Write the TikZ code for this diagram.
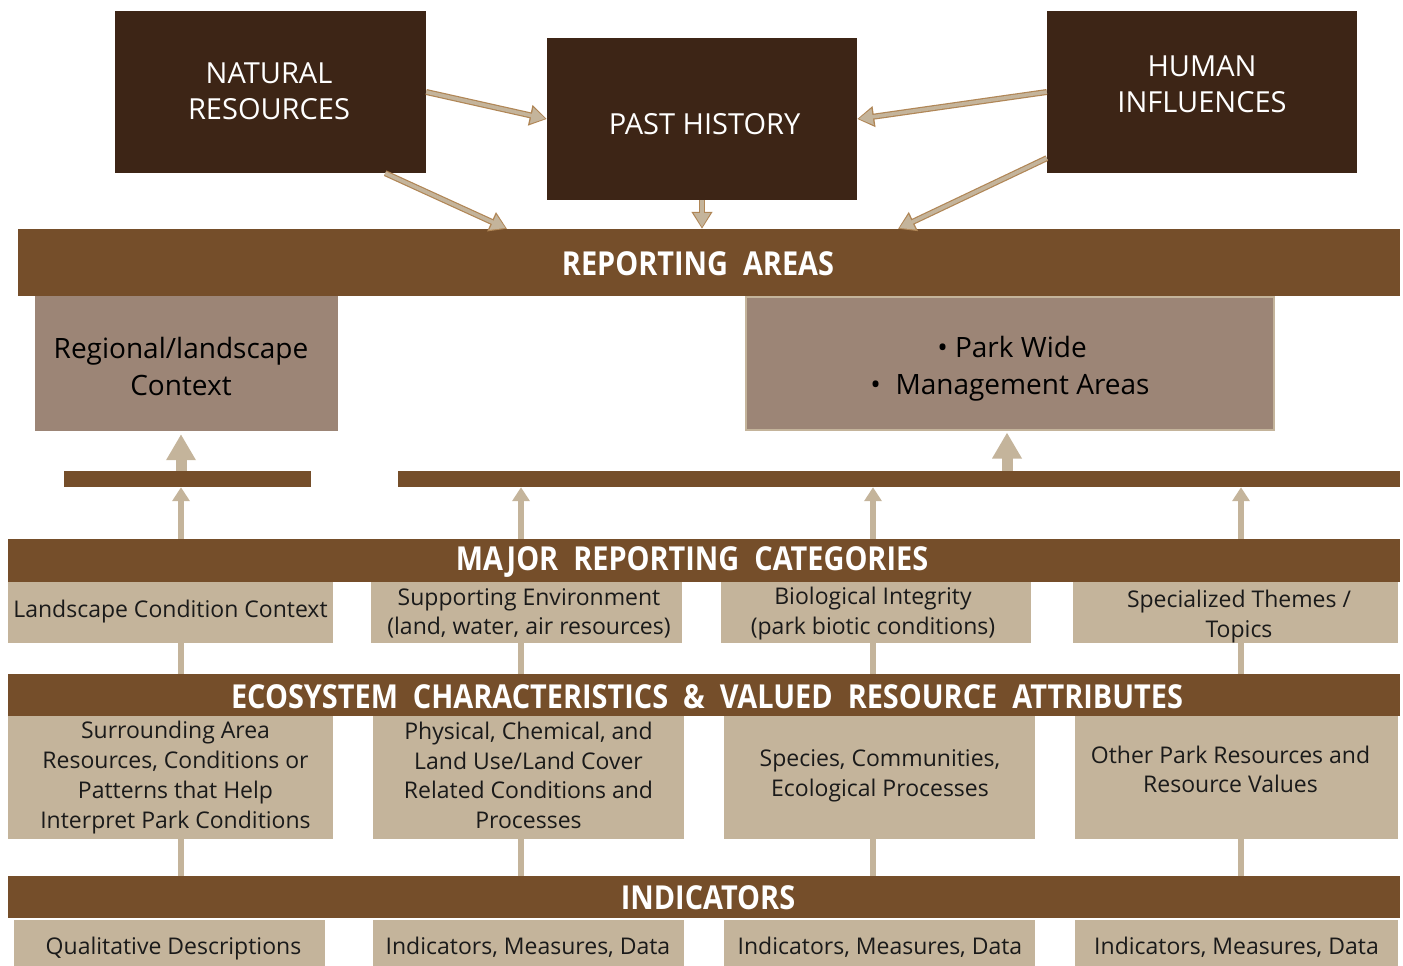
\documentclass[tikz,border=0pt]{standalone}
\usepackage{fontspec}
\usepackage{graphicx}
\setmainfont{Open Sans}
\usetikzlibrary{arrows.meta,calc}
\definecolor{darkb}{HTML}{3D2516}
\definecolor{barb}{HTML}{754E2A}
\definecolor{mauve}{HTML}{9C8576}
\definecolor{tanc}{HTML}{C4B49B}
\definecolor{arrb}{HTML}{B08656}
\definecolor{txt}{HTML}{1A1A1A}
\newcommand{\hd}[1]{\scalebox{0.875}[1]{#1}}
\tikzset{
  topbox/.style={fill=darkb, inner sep=0pt},
  toptxt/.style={text=white, inner sep=0pt, align=center, font=\fontsize{29}{36}\selectfont},
  barbox/.style={fill=barb, inner sep=0pt},
  hdr/.style={text=white, inner sep=0pt, font=\fontsize{33}{33}\selectfont\bfseries},
  midbox/.style={fill=mauve, inner sep=0pt},
  midtxt/.style={text=black, inner sep=0pt, align=center, font=\fontsize{28}{37}\selectfont},
  tanbox/.style={fill=tanc, inner sep=0pt},
  tantxt/.style={text=txt, inner sep=0pt, align=center, font=\fontsize{23}{29.7}\selectfont},
  conn/.style={draw=tanc, line width=6pt},
  uparrow/.style={draw=tanc, line width=6pt, -{Triangle[length=14pt,width=17pt]}},
  bigarrow/.style={draw=tanc, line width=11pt, -{Triangle[length=26pt,width=28pt]}},
  outerarr/.style={draw=arrb, line width=6pt, -{Triangle[length=17pt,width=20pt]}},
  innerarr/.style={draw=tanc, line width=3.6pt, -{Triangle[length=14pt,width=15.5pt]}, shorten >=1.6pt},
}
\newcommand{\duoarrow}[2]{\draw[outerarr] #1 -- #2; \draw[innerarr] #1 -- #2;}
\begin{document}
\begin{tikzpicture}[x=1pt,y=-1pt]
\useasboundingbox (0,0) rectangle (1403,966);
% top boxes
\node[topbox, minimum width=311pt, minimum height=162pt] (nr) at (270.5,92) {};
\node[toptxt] (nrt) at (269,91) {NATURAL\\RESOURCES};
\node[topbox, minimum width=310pt, minimum height=162pt] (ph) at (702,119) {};
\node[toptxt] (pht) at (704.5,124) {PAST HISTORY};
\node[topbox, minimum width=310pt, minimum height=162pt] (hi) at (1202,92) {};
\node[toptxt] (hit) at (1202,84) {HUMAN\\INFLUENCES};
% reporting areas bar
\node[barbox, minimum width=1382pt, minimum height=67pt] (ra) at (709,262.5) {};
\node[hdr] (ratxt) at (698,264) {\hd{REPORTING\ \ AREAS}};
% middle boxes
\node[midbox, minimum width=303pt, minimum height=135pt] (reg) at (186.5,363.5) {};
\node[midtxt] (regt) at (181,366.5) {Regional/landscape\\Context};
\node[midbox, draw=tanc, line width=2pt, minimum width=528pt, minimum height=133pt] (pw) at (1010,363.5) {};
\node[midtxt] (pwt) at (1010,369) {\hspace*{4pt}• Park Wide\\•\ \ Management Areas};
% thin bars
\node[barbox, minimum width=247pt, minimum height=16pt] (lbar) at (187.5,479) {};
\node[barbox, minimum width=1002pt, minimum height=16pt] (rbar) at (899,479) {};
% major reporting categories
\node[barbox, minimum width=1392pt, minimum height=43pt] (mrc) at (704,560.5) {};
\node[hdr] (mrctxt) at (692,562) {\hd{MAJOR\ \ REPORTING\ \ CATEGORIES}};
\node[tanbox, minimum width=325pt, minimum height=61pt] (c1) at (170.5,612.5) {};
\node[tanbox, minimum width=311pt, minimum height=61pt] (c2) at (526.5,612.5) {};
\node[tanbox, minimum width=310pt, minimum height=61pt] (c3) at (876,612.5) {};
\node[tanbox, minimum width=325pt, minimum height=61pt] (c4) at (1235.5,612.5) {};
\node[tantxt] (c1t) at (170.5,611.5) {Landscape Condition Context};
\node[tantxt] (c2t) at (529,613.5) {Supporting Environment\\(land, water, air resources)};
\node[tantxt] (c3t) at (873,613.5) {Biological Integrity\\(park biotic conditions)};
\node[tantxt] (c4t) at (1239,616.5) {Specialized Themes /\\Topics};
% ecosystem characteristics
\node[barbox, minimum width=1392pt, minimum height=42pt] (eco) at (704,695) {};
\node[hdr] (ecotxt) at (707,697) {\hd{ECOSYSTEM\ \ CHARACTERISTICS\ \ \&\ \ VALUED\ \ RESOURCE\ \ ATTRIBUTES}};
\node[tanbox, minimum width=325pt, minimum height=123pt] (e1) at (170.5,777.5) {};
\node[tanbox, minimum width=311pt, minimum height=123pt] (e2) at (528.5,777.5) {};
\node[tanbox, minimum width=311pt, minimum height=123pt] (e3) at (879.5,777.5) {};
\node[tanbox, minimum width=323pt, minimum height=123pt] (e4) at (1236.5,777.5) {};
\node[tantxt] (e1t) at (175.5,777.5) {Surrounding Area\\Resources, Conditions or\\Patterns that Help\\Interpret Park Conditions};
\node[tantxt] (e2t) at (528.5,775.5) {Physical, Chemical, and\\Land Use/Land Cover\\Related Conditions and\\Processes};
\node[tantxt] (e3t) at (880,775.5) {Species, Communities,\\Ecological Processes};
\node[tantxt] (e4t) at (1230.5,769.5) {Other Park Resources and\\Resource Values};
% indicators
\node[barbox, minimum width=1392pt, minimum height=42pt] (ind) at (704,897) {};
\node[hdr] (indtxt) at (708,898) {\hd{INDICATORS}};
\node[tanbox, minimum width=311pt, minimum height=50pt] (i1) at (169.5,945) {};
\node[tanbox, minimum width=311pt, minimum height=50pt] (i2) at (528.5,945) {};
\node[tanbox, minimum width=311pt, minimum height=50pt] (i3) at (879.5,945) {};
\node[tanbox, minimum width=323pt, minimum height=50pt] (i4) at (1236.5,945) {};
\node[tantxt] (i1t) at (173.5,949) {Qualitative Descriptions};
\node[tantxt] (i2t) at (528,947) {Indicators, Measures, Data};
\node[tantxt] (i3t) at (880,947) {Indicators, Measures, Data};
\node[tantxt] (i4t) at (1236.5,947) {Indicators, Measures, Data};
% column coordinates
\coordinate (x1) at (181,0);
\coordinate (x2) at (521,0);
\coordinate (x3) at (873,0);
\coordinate (x4) at (1241,0);
\coordinate (xp) at (1007,0);
\coordinate (t1) at (507,0);
\coordinate (t2) at (898,0);
\coordinate (nrs) at ($(nr.south east)+(-41,0)$);
\coordinate (his) at ($(hi.south west)+(0,-15)$);
% vertical connectors
\foreach \k in {1,2,3,4}{
  \draw[conn] (x\k |- c\k.south) -- (x\k |- eco.north);
  \draw[conn] (x\k |- e\k.south) -- (x\k |- ind.north);
  \draw[uparrow] (x\k |- mrc.north) -- (x\k |- lbar.south);
}
% big arrows
\draw[bigarrow, shorten >=3pt] (x1 |- lbar.north) -- (x1 |- reg.south);
\draw[bigarrow, shorten >=1.5pt] (xp |- rbar.north) -- (xp |- pw.south);
% top arrows
\duoarrow{(nr.east)}{(ph.west)}
\duoarrow{(nrs)}{(t1 |- ra.north)}
\duoarrow{(ph.south)}{(ph.south |- ra.north)}
\duoarrow{(hi.west)}{(ph.east)}
\duoarrow{(his)}{(t2 |- ra.north)}
\end{tikzpicture}
\end{document}
